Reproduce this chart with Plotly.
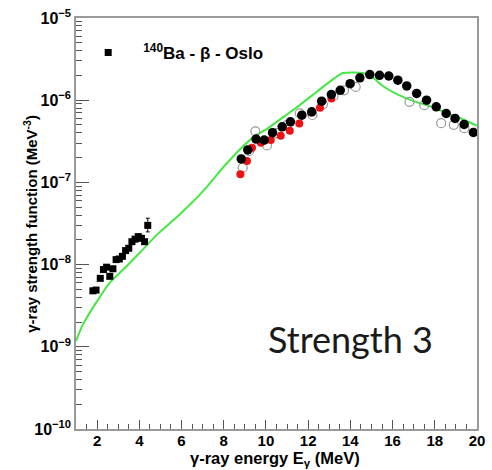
import plotly.graph_objects as go

# ---- data ----
low_E = [1.8, 1.95, 2.15, 2.3, 2.45, 2.6, 2.75, 2.9, 3.05, 3.2, 3.35, 3.5, 3.65, 3.8, 3.95, 4.1, 4.25, 4.4]
low_S = [4.8e-9, 4.9e-9, 6.8e-9, 8.7e-9, 9.3e-9, 7.2e-9, 8.9e-9, 1.15e-8, 1.17e-8, 1.26e-8,
         1.48e-8, 1.58e-8, 1.9e-8, 2.04e-8, 2.19e-8, 2.09e-8, 1.9e-8, 3.0e-8]
low_err_up = [0, 0, 0, 0, 0, 0, 0, 0, 0, 0, 0, 0, 0, 0, 0, 0, 0, 0.67e-8]
low_err_dn = [0, 0, 0, 0, 0, 0, 0, 0, 0, 0, 0, 0, 0, 0, 0, 0, 0, 0.5e-8]

blk_E = [8.83, 9.14, 9.53, 9.92, 10.31, 10.77, 11.16, 11.70, 12.17, 12.64, 13.10, 13.52, 13.99,
         14.45, 14.92, 15.38, 15.82, 16.25, 16.67, 17.14, 17.61, 18.07, 18.54, 18.96, 19.39, 19.83]
blk_S = [1.93e-7, 2.48e-7, 3.37e-7, 3.27e-7, 4.02e-7, 4.75e-7, 5.46e-7, 6.58e-7, 7.23e-7, 9.73e-7,
         1.17e-6, 1.32e-6, 1.59e-6, 1.87e-6, 2.05e-6, 2.01e-6, 1.97e-6, 1.75e-6, 1.49e-6, 1.21e-6,
         1.0e-6, 8.3e-7, 6.89e-7, 6.0e-7, 5.07e-7, 4.06e-7]

red_E = [8.79, 9.10, 9.34, 9.76, 10.23, 10.70, 11.13, 11.58, 12.15, 12.56, 13.10]
red_S = [1.26e-7, 1.82e-7, 2.64e-7, 3.04e-7, 3.27e-7, 3.70e-7, 4.25e-7, 5.21e-7, 7.08e-7, 8.07e-7, 1.05e-6]

open_E = [8.9, 9.2, 9.5, 10.05, 10.5, 11.0, 11.6, 12.2, 12.7, 13.2, 13.7, 14.25, 16.8, 17.5, 18.3, 18.9, 19.4]
open_S = [1.51e-7, 2.4e-7, 4.17e-7, 2.82e-7, 3.98e-7, 5.01e-7, 6.92e-7, 6.61e-7, 8.91e-7, 1.12e-6,
          1.32e-6, 1.45e-6, 9.55e-7, 8.71e-7, 5.25e-7, 5.01e-7, 4.57e-7]

curve_E = [1.0, 1.25, 1.5, 2.0, 2.6, 3.4, 4.15, 4.9, 5.7, 6.1, 6.5, 6.9, 7.25, 8.0, 8.8, 9.45, 10.1,
           10.85, 11.6, 12.4, 13.2, 13.65, 14.6, 15.05, 15.5, 16.3, 17.1, 17.85, 18.6, 19.4, 20.0]
curve_S = [1.17e-9, 1.70e-9, 2.24e-9, 3.59e-9, 6.03e-9, 9.55e-9, 1.51e-8, 2.40e-8, 3.63e-8, 4.52e-8,
           5.69e-8, 7.24e-8, 9.12e-8, 1.55e-7, 2.57e-7, 3.63e-7, 4.57e-7, 6.31e-7, 8.71e-7, 1.26e-6,
           1.82e-6, 2.14e-6, 2.14e-6, 1.91e-6, 1.51e-6, 1.15e-6, 9.55e-7, 8.32e-7, 6.92e-7, 5.75e-7,
           4.9e-7]

y_tickvals = [1e-10, 1e-9, 1e-8, 1e-7, 1e-6, 1e-5]
y_ticktext = ["10<sup>\u221210</sup>", "10<sup>\u22129</sup>", "10<sup>\u22128</sup>",
              "10<sup>\u22127</sup>", "10<sup>\u22126</sup>", "10<sup>\u22125</sup>"]
x_tickvals = [2, 4, 6, 8, 10, 12, 14, 16, 18, 20]

FONT = "Liberation Sans"

fig = go.Figure()
fig.add_trace(go.Scatter(x=curve_E, y=curve_S, mode="lines",
                         line=dict(color="#44e844", width=2, shape="spline", smoothing=0.6),
                         showlegend=False))
fig.add_trace(go.Scatter(x=open_E, y=open_S, mode="markers", showlegend=False,
                         marker=dict(symbol="circle-open", size=9, color="#999999",
                                     line=dict(width=1.2, color="#9a9a9a"))))
fig.add_trace(go.Scatter(x=red_E, y=red_S, mode="markers", showlegend=False,
                         marker=dict(symbol="circle", size=8, color="#ee1111")))
fig.add_trace(go.Scatter(x=blk_E, y=blk_S, mode="markers", showlegend=False,
                         marker=dict(symbol="circle", size=9.5, color="black")))
fig.add_trace(go.Scatter(x=low_E, y=low_S, mode="markers",
                         name="<sup>140</sup>Ba - \u03b2 - Oslo",
                         error_y=dict(type="data", array=low_err_up, arrayminus=low_err_dn,
                                      color="black", thickness=1, width=2),
                         marker=dict(symbol="square", size=7, color="black")))

fig.update_layout(
    width=492, height=470,
    margin=dict(l=76, r=7, t=15, b=41),
    paper_bgcolor="white", plot_bgcolor="white",
    font=dict(family=FONT, color="black"),
    showlegend=True,
    legend=dict(x=-0.007, y=0.915, xanchor="left", yanchor="middle", itemwidth=60,
                bgcolor="rgba(0,0,0,0)", borderwidth=0,
                font=dict(family=FONT, size=17, weight="bold", color="black")),
    xaxis=dict(range=[1, 20], showgrid=False, zeroline=False,
               showline=True, linecolor="#9a9a9a", linewidth=1.5, mirror=True,
               ticks="inside", ticklen=9, tickwidth=1, tickcolor="#555",
               tickmode="array", tickvals=x_tickvals, ticklabelstandoff=-3,
               tickfont=dict(family=FONT, size=15, weight="bold"),
               minor=dict(ticks="inside", ticklen=5, tickcolor="#555", dtick=0.5,
                          tick0=1, showgrid=False)),
    yaxis=dict(type="log", range=[-10, -5], showgrid=False, zeroline=False,
               showline=True, linecolor="#9a9a9a", linewidth=1.5, mirror=True,
               ticks="inside", ticklen=13, tickwidth=1, tickcolor="#555",
               tickmode="array", tickvals=y_tickvals, ticktext=y_ticktext,
               tickfont=dict(family=FONT, size=16, weight="bold"),
               minor=dict(ticks="inside", ticklen=6, tickcolor="#555", dtick="D1",
                          showgrid=False)),
    annotations=[
        dict(text="\u03b3-ray strength function (MeV<sup>-3</sup>)", textangle=-90,
             xref="paper", yref="paper", x=-0.114, y=0.5, xanchor="center", yanchor="middle",
             showarrow=False, font=dict(family=FONT, size=15, weight="bold")),
        dict(text="\u03b3-ray energy E<sub>\u03b3</sub> (MeV)",
             xref="paper", yref="paper", x=0.496, y=-0.072, xanchor="center", yanchor="middle",
             showarrow=False, font=dict(family=FONT, size=16.5, weight="bold")),
        dict(text="Strength 3", xref="paper", yref="paper", x=0.895, y=0.22,
             xanchor="right", yanchor="middle", showarrow=False,
             font=dict(family="Lato", size=36, color="#1a1a1a")),
    ],
)

fig.write_html("out.html")
